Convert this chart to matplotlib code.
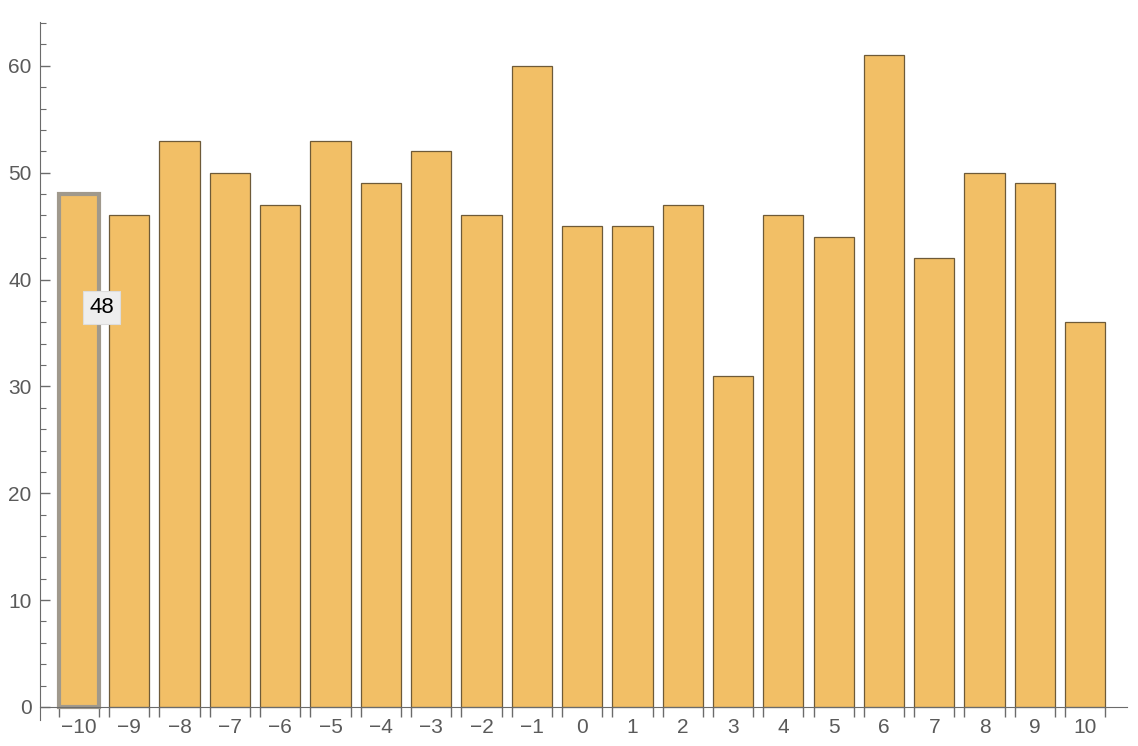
import matplotlib.pyplot as plt
import numpy as np

plt.rcParams['font.family'] = ['Liberation Sans', 'DejaVu Sans']

# bin values
categories = list(range(-10, 11))
counts = [48, 46, 53, 50, 47, 53, 49, 52, 46, 60, 45, 45, 47, 31, 46, 44, 61, 42, 50, 49, 36]
tick_labels = [str(c).replace('-', '\u2212') for c in categories]
highlight = 0  # index of the hovered bar (-10)

bar_color = '#F2BF66'
edge_color = '#6E5A38'
axis_color = '#6B6B6B'
label_color = '#5A5A5A'

fig = plt.figure(figsize=(11.38, 7.46), dpi=100)
ax = fig.add_axes([40 / 1138, 1 - 720 / 746, 1087 / 1138, 698 / 746])

x = np.arange(len(categories))
width = 0.8
bars = ax.bar(x, counts, width=width, color=bar_color, edgecolor=edge_color, linewidth=0.9, zorder=2)

# hovered bar with grey outline
hb = bars[highlight]
hb.set_edgecolor('#A0998C')
hb.set_linewidth(3)

ax.set_xlim(-0.775, 20.83)
ax.set_ylim(-1.22, 64.1)

for side in ['top', 'right']:
    ax.spines[side].set_visible(False)
ax.spines['bottom'].set_position(('data', 0))
ax.spines['bottom'].set_color(axis_color)
ax.spines['left'].set_color(axis_color)

# y ticks point inward
ax.set_yticks(np.arange(0, 61, 10))
ax.set_yticks(np.arange(0, 65, 2), minor=True)
ax.tick_params(axis='y', which='major', direction='in', length=7, width=1,
               color=axis_color, labelcolor=label_color, labelsize=15, pad=6)
ax.tick_params(axis='y', which='minor', direction='in', length=4, width=0.8, color=axis_color)

# x labels at bar centres, ticks at bar edges
ax.set_xticks(x)
ax.set_xticklabels(tick_labels)
edges = np.concatenate([x - width / 2, x + width / 2])
ax.set_xticks(edges, minor=True)
ax.tick_params(axis='x', which='major', length=0, labelcolor=label_color, labelsize=15, pad=8)
ax.tick_params(axis='x', which='minor', direction='out', length=7, width=1, color=axis_color)

# tooltip
ax.text(x[highlight] + 0.45, 37.4, str(counts[highlight]), fontsize=16, color='black',
        ha='center', va='center', zorder=5,
        bbox=dict(boxstyle='square,pad=0.28', facecolor='#EEEEEE', edgecolor='#DDDDDD', linewidth=0.8))

plt.savefig('out.png', dpi=100)
plt.close()
